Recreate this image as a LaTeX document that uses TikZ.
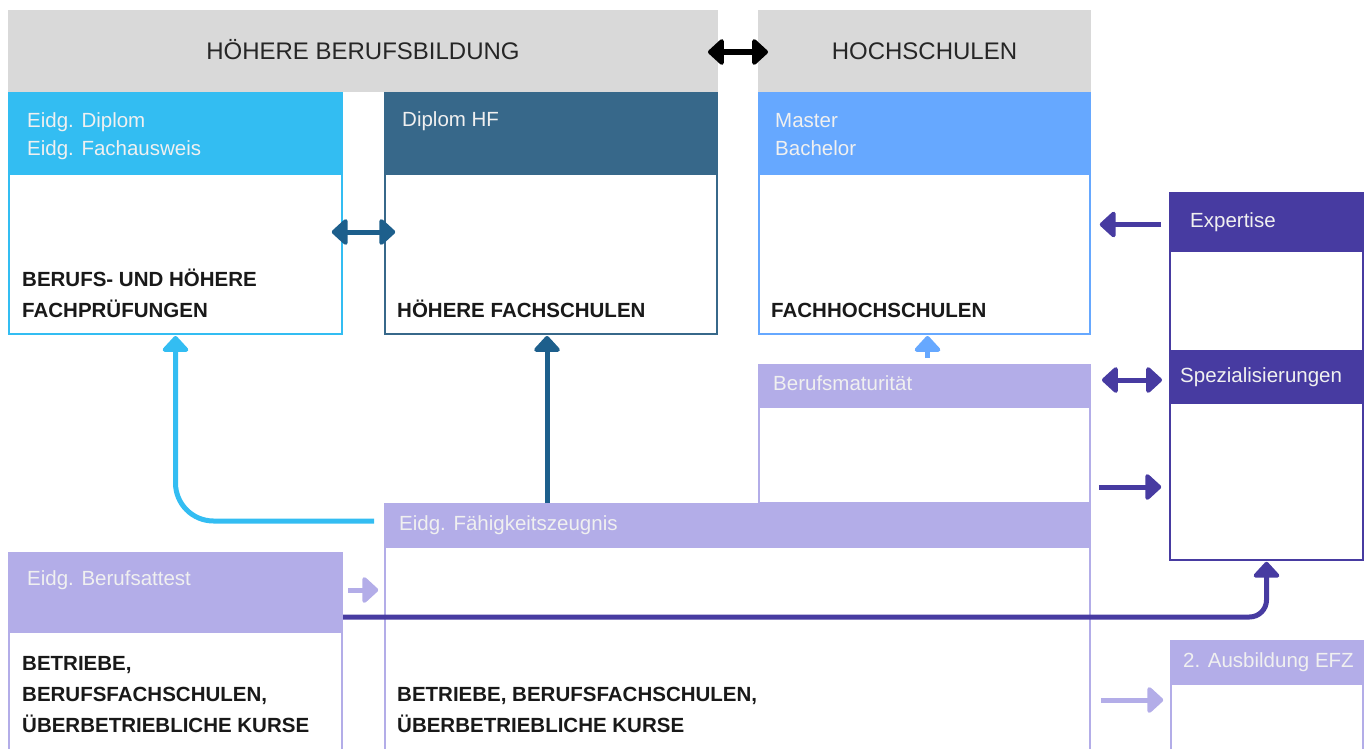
\documentclass[tikz,border=0pt]{standalone}
\usepackage{fontspec}
\setmainfont{Liberation Sans}
\usetikzlibrary{arrows.meta,calc}
\definecolor{hdgray}{HTML}{D9D9D9}
\definecolor{skyblue}{HTML}{33BDF2}
\definecolor{slateblue}{HTML}{37688A}
\definecolor{deepteal}{HTML}{1D5F8C}
\definecolor{fhblue}{HTML}{66A8FF}
\definecolor{lavender}{HTML}{B3ADE8}
\definecolor{deeppurple}{HTML}{473BA1}
\tikzstyle{box} = [anchor=north west, inner sep=0pt, outer sep=0pt, line width=2.5pt, fill=white]
\tikzstyle{head} = [anchor=north west, inner sep=0pt, outer sep=0pt]
\tikzstyle{bigtitle} = [anchor=base, inner sep=0pt, text=black!85, font=\fontsize{24}{28}\selectfont]
\tikzstyle{headtext} = [anchor=base west, inner sep=0pt, align=left, text=white!94!black, font=\fontsize{20.5}{28}\selectfont]
\tikzstyle{schooltext} = [anchor=base west, inner sep=0pt, align=left, text=black!90, font=\bfseries\fontsize{20.5}{31}\selectfont]
\tikzstyle{link} = [line width=5pt, -{Triangle[width=30pt,length=17pt,round]}]
\tikzstyle{twoway} = [line width=5pt, {Triangle[width=30pt,length=17pt,round]}-{Triangle[width=30pt,length=17pt,round]}]

\begin{document}
\begin{tikzpicture}[x=1pt, y=-1pt]
	\useasboundingbox (0,0) rectangle (1370,749);

	% the two top bands
	\node[head, fill=hdgray, minimum width=710, minimum height=82] (hbb) at (8,10) {};
	\node[head, fill=hdgray, minimum width=333, minimum height=82] (hsl) at (758,10) {};
	\node[bigtitle] (hbbT) at (363,60) {HÖHERE BERUFSBILDUNG};
	\node[bigtitle] (hslT) at (924.5,60) {HOCHSCHULEN};

	% boxes: body first, then the coloured header on top
	\node[box, draw=skyblue, minimum width=332.6, minimum height=160] (dipB) at (9.2,174) {};
	\node[head, fill=skyblue, minimum width=335, minimum height=82] (dipH) at (8,92) {};
	\node[box, draw=slateblue, minimum width=331.6, minimum height=160] (hfB) at (385.2,174) {};
	\node[head, fill=slateblue, minimum width=334, minimum height=82] (hfH) at (384,92) {};
	\node[box, draw=fhblue, minimum width=330.6, minimum height=160] (hsB) at (759.2,174) {};
	\node[head, fill=fhblue, minimum width=333, minimum height=82] (hsH) at (758,92) {};
	\node[box, draw=lavender, minimum width=330.6, minimum height=96] (bmB) at (759.2,407) {};
	\node[head, fill=lavender, minimum width=333, minimum height=43] (bmH) at (758,364) {};
	\node[box, draw=lavender, minimum width=704.6, minimum height=203] (fzB) at (385.2,547) {};
	\node[head, fill=lavender, minimum width=707, minimum height=44] (fzH) at (384,503) {};
	\node[box, draw=lavender, minimum width=332.6, minimum height=118] (atB) at (9.2,632) {};
	\node[head, fill=lavender, minimum width=335, minimum height=80] (atH) at (8,552) {};
	\node[box, draw=deeppurple, minimum width=192.6, minimum height=366.8] (rc) at (1170.2,193) {};
	\node[head, fill=deeppurple, minimum width=195, minimum height=59] (expH) at (1169,193) {};
	\node[head, fill=deeppurple, minimum width=195, minimum height=54] (spzH) at (1169,350) {};
	\node[box, draw=lavender, minimum width=191.6, minimum height=66] (efzB) at (1171.2,684) {};
	\node[head, fill=lavender, minimum width=194, minimum height=44] (efzH) at (1170,640) {};

	% header texts (base = last line)
	\foreach \name/\pos/\txt in {{dipT/(27,155)/Eidg. Diplom\\Eidg. Fachausweis}, {hfT/(402,127)/Diplom HF},
			{hsT/(775,155)/Master\\Bachelor}, {bmT/(773,390)/Berufsmaturität},
			{fzT/(399,530)/Eidg. Fähigkeitszeugnis}, {atT/(27,585)/Eidg. Berufsattest},
			{expT/(1190,227)/Expertise}, {spzT/(1180,382)/Spezialisierungen}, {efzT/(1183,667)/2. Ausbildung EFZ}}
		\node[headtext] (\name) at \pos {\txt};

	% school texts
	\foreach \name/\pos/\txt in {{dipS/(22,317)/BERUFS- UND HÖHERE\\FACHPRÜFUNGEN}, {hfS/(397,317)/HÖHERE FACHSCHULEN},
			{hsS/(771,317)/FACHHOCHSCHULEN}, {atS/(22,732)/BETRIEBE,\\BERUFSFACHSCHULEN,\\ÜBERBETRIEBLICHE KURSE},
			{fzS/(397,732)/BETRIEBE, BERUFSFACHSCHULEN,\\ÜBERBETRIEBLICHE KURSE}}
		\node[schooltext] (\name) at \pos {\txt};

	% arrows
	\draw[twoway, draw=black, line width=6pt] ($(hbb.east)+(-10,1)$) -- ($(hsl.west)+(10,1)$);
	\draw[twoway, draw=deepteal] ($(dipB.east)+(-10,-22)$) -- ($(hfB.west)+(10,-22)$);
	\draw[link, draw=skyblue, rounded corners=38, shorten >=2pt] ($(fzH.west)+(-10,-4)$) -| (dipB.south);
	\draw[link, draw=deepteal, shorten >=2pt] ($(hfB.south |- fzH.north)+(-4,0)$) -- ($(hfB.south)+(-4,0)$);
	\draw[link, draw=fhblue, shorten <=6pt, shorten >=2pt] ($(hsB.south |- bmH.north)+(3,0)$) -- ($(hsB.south)+(3,0)$);
	\draw[link, draw=deeppurple] ($(expH.west)+(-8,2)$) -- ($(hsB.east |- expH.west)+(10,2)$);
	\draw[twoway, draw=deeppurple] ($(bmH.east |- spzH.west)+(11,3)$) -- ($(spzH.west)+(-7,3)$);
	\draw[link, draw=deeppurple] ($(bmB.south east)+(9,-16)$) -- ($(rc.west |- bmB.south east)+(-9,-16)$);
	\draw[link, draw=deeppurple, rounded corners=17, shorten >=2pt] ($(atH.south east)+(0,-15)$) -| (rc.south);
	\draw[link, draw=lavender] ($(atH.east)+(5,-2)$) -- ($(fzB.west |- atH.east)+(-7,-2)$);
	\draw[link, draw=lavender] ($(fzB.east |- efzB.west)+(11,-17)$) -- ($(efzB.west)+(-8,-17)$);
\end{tikzpicture}
\end{document}
